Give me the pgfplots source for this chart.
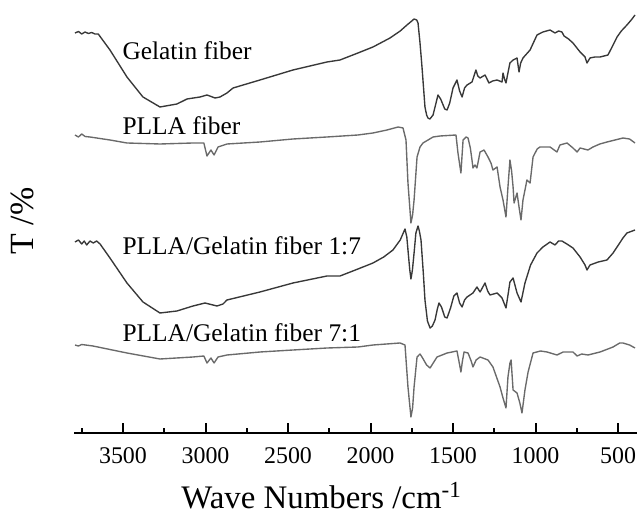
\documentclass[border=0pt]{standalone}
\usepackage{fontspec}
\setmainfont{Liberation Serif}
\usepackage{pgfplots}
\pgfplotsset{compat=1.18}

\definecolor{darkline}{HTML}{383838}
\definecolor{greyline}{HTML}{6A6A6A}

\begin{document}
\begin{tikzpicture}
\begin{axis}[
  scale only axis,
  width=225.2bp, height=173.2bp,
  x dir=reverse,
  xmin=385, xmax=3797,
  ymin=0, ymax=433,
  axis lines*=left,
  y axis line style={draw=none},
  x axis line style={line width=0.8pt},
  ytick=\empty,
  xtick={500,1000,...,3500},
  minor xtick={750,1250,...,3750},
  tick align=inside,
  major tick length=4bp,
  minor tick length=2bp,
  every tick/.style={line width=0.8pt, black},
  /pgf/number format/assume math mode=true,
  /pgf/number format/set thousands separator={},
  xticklabel style={font=\fontsize{9.6}{11}\selectfont, yshift=-2.2bp},
  xlabel={Wave Numbers /cm\textsuperscript{-1}},
  xlabel style={font=\fontsize{13.2}{16}\selectfont, at={(rel axis cs:0.44,0)}, anchor=base, yshift=-30.3bp},
  ylabel={T /\%},
  ylabel style={font=\fontsize{13.6}{16}\selectfont, at={(rel axis cs:0,0.49)}, anchor=center, yshift=20.8bp},
  every axis plot/.append style={line width=0.55pt, line join=round},
  clip=false,
]
% Gelatin fiber
\addplot[darkline] coordinates {
(3791,400) (3770,401.5) (3750,399) (3730,401) (3710,399.5) (3690,400.5) (3670,399) (3650,399)
(3579,383) (3476,356) (3379,336) (3276,326) (3173,329) (3112,334) (3033,336) (2991,338)
(2942,335) (2912,336) (2870,340) (2833,345) (2670,353) (2470,363) (2264,371) (2185,373)
(2076,380) (1985,386) (1882,395) (1820,402) (1779,408) (1750,412) (1736,414) (1720,413)
(1712,410) (1700,390) (1688,366) (1670,326) (1660,318) (1652,315) (1640,314) (1621,318)
(1600,332) (1591,338) (1575,334) (1550,324) (1536,323) (1520,330) (1500,345) (1476,353)
(1460,342) (1445,336) (1430,345) (1415,348) (1385,351) (1361,363) (1350,357) (1336,355)
(1306,358) (1282,350) (1260,352) (1233,353) (1203,351) (1197,360) (1188,354) (1179,350)
(1165,362) (1155,370) (1136,373) (1112,375) (1100,361) (1090,370) (1076,375) (1033,383)
(991,398) (955,401) (912,403) (882,400) (860,402) (840,401) (827,397) (800,394) (773,390)
(730,381) (700,376) (688,370) (670,375) (640,376) (609,376) (561,378) (530,388) (506,396)
(480,402) (446,408) (420,413) (397,418)
};
% PLLA fiber
\addplot[greyline] coordinates {
(3791,298) (3770,296) (3750,299) (3730,296.5) (3700,296) (3579,293) (3476,290) (3276,289)
(3076,290) (3010,290) (2991,277) (2967,283) (2948,278) (2924,286) (2870,289) (2670,291)
(2470,294) (2264,296) (2076,298) (1985,300) (1900,303) (1833,306) (1803,305) (1785,293)
(1773,250) (1755,210) (1745,218) (1736,233) (1718,276) (1700,286) (1682,290) (1621,296)
(1579,297) (1482,298) (1470,280) (1452,260) (1445,278) (1439,293) (1420,296) (1409,295)
(1395,285) (1385,273) (1379,265) (1367,268) (1355,265) (1336,281) (1312,283) (1288,276)
(1270,270) (1258,263) (1233,266) (1215,246) (1197,233) (1179,216) (1167,246) (1155,273)
(1145,262) (1136,246) (1130,230) (1112,240) (1100,226) (1088,213) (1076,233) (1052,253)
(1033,250) (1015,276) (990,284) (973,286) (912,286) (870,281) (852,288) (809,290) (773,285)
(748,281) (730,285) (682,283) (652,286) (610,289) (567,291) (470,295) (430,294) (397,290)
};
% PLLA/Gelatin fiber 1:7
\addplot[darkline] coordinates {
(3791,191) (3770,193) (3750,189) (3735,192) (3720,188) (3700,192) (3680,190) (3660,192)
(3639,189) (3579,175) (3476,150) (3379,131) (3276,120) (3173,122) (3076,127) (3003,130)
(2930,127) (2894,129) (2870,133) (2670,141) (2470,150) (2264,157) (2185,157) (2076,164)
(1985,170) (1920,176) (1864,183) (1820,193) (1791,204) (1780,196) (1773,183) (1762,163)
(1755,154) (1746,163) (1736,180) (1725,200) (1712,207) (1704,202) (1694,193) (1680,160)
(1670,133) (1655,112) (1639,105) (1625,107) (1609,113) (1595,124) (1585,130) (1570,126)
(1550,116) (1536,115) (1515,125) (1495,137) (1476,140) (1460,130) (1445,126) (1430,133)
(1415,136) (1379,140) (1355,146) (1336,141) (1306,150) (1290,142) (1276,138) (1233,140)
(1203,135) (1179,125) (1165,140) (1155,151) (1136,155) (1112,140) (1088,131) (1064,150)
(1030,168) (991,180) (955,186) (912,191) (882,188) (860,192) (840,192) (810,189) (773,185)
(730,176) (700,168) (688,163) (670,168) (620,171) (567,173) (530,180) (506,186) (470,195)
(446,200) (397,203)
};
% PLLA/Gelatin fiber 7:1
\addplot[greyline] coordinates {
(3791,88) (3770,87) (3750,88.5) (3682,87) (3476,80) (3276,74) (3076,76) (3010,77) (2991,70)
(2967,75) (2948,70) (2924,76) (2870,78) (2670,81) (2470,83) (2264,85) (2076,86) (1985,88)
(1821,90) (1791,88) (1773,46) (1755,16) (1745,25) (1736,46) (1718,76) (1700,79) (1688,76)
(1660,68) (1639,65) (1620,70) (1597,76) (1536,80) (1476,82) (1462,70) (1452,61) (1443,72)
(1433,81) (1409,80) (1390,72) (1379,66) (1360,73) (1336,76) (1288,73) (1258,66) (1215,46)
(1197,35) (1179,25) (1167,56) (1155,70) (1148,73) (1136,43) (1112,40) (1095,30) (1082,20)
(1064,43) (1045,61) (1015,80) (970,82) (930,81) (870,78) (833,81) (773,81) (748,77) (720,79)
(682,78) (609,81) (530,86) (490,90) (470,90) (430,88) (397,85)
};
\node[anchor=base west, font=\fontsize{10.2}{12}\selectfont, inner sep=0pt] at (axis cs:3506,373) {Gelatin fiber};
\node[anchor=base west, font=\fontsize{10.2}{12}\selectfont, inner sep=0pt] at (axis cs:3506,298) {PLLA fiber};
\node[anchor=base west, font=\fontsize{10.2}{12}\selectfont, inner sep=0pt] at (axis cs:3506,178) {PLLA/Gelatin fiber 1:7};
\node[anchor=base west, font=\fontsize{10.2}{12}\selectfont, inner sep=0pt] at (axis cs:3506,91) {PLLA/Gelatin fiber 7:1};
\end{axis}
\pgfresetboundingbox
\useasboundingbox (-29.6bp,-32.8bp) rectangle (225.2bp,173.2bp);
\end{tikzpicture}
\end{document}
